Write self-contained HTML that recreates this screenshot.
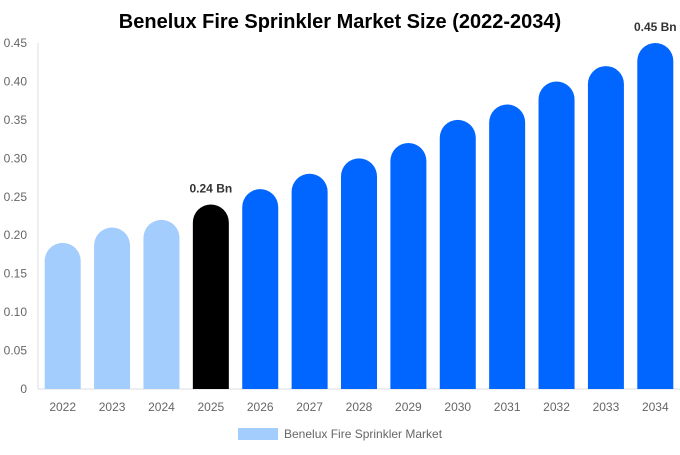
<!DOCTYPE html>
<html><head><meta charset="utf-8"><style>
body{margin:0;background:#fff;font-family:"Liberation Sans",Arial,sans-serif}
svg text{font-family:"Liberation Sans",Arial,sans-serif}
</style></head><body>
<svg id="c" width="680" height="450">
<text x="340" y="28" text-anchor="middle" font-size="20" font-weight="bold" fill="#000">Benelux Fire Sprinkler Market Size (2022-2034)</text>
<g id="grid"></g><g id="bars"></g>
<rect x="238" y="428" width="40" height="12" fill="#a3cdfd"/>
<text x="284" y="438" font-size="12" fill="#666">Benelux Fire Sprinkler Market</text>
</svg>
<script>
const years=["2022","2023","2024","2025","2026","2027","2028","2029","2030","2031","2032","2033","2034"];
const values=[0.19,0.21,0.22,0.24,0.26,0.28,0.30,0.32,0.35,0.37,0.40,0.42,0.45];
const ticks=[0,0.05,0.10,0.15,0.20,0.25,0.30,0.35,0.40,0.45];
const labels={3:"0.24 Bn",12:"0.45 Bn"};
const NS="http://www.w3.org/2000/svg";
const x0=38,x1=680,y0=389,yTop=43,maxV=0.45;
const y=v=>y0-(v/maxV)*(y0-yTop);
const bw=(x1-x0)/years.length;
const xc=i=>x0+bw*(i+0.5);
function mk(t,a,p){const e=document.createElementNS(NS,t);for(const k in a)e.setAttribute(k,a[k]);p.appendChild(e);return e;}
const g=document.getElementById('grid'),b=document.getElementById('bars');
const ax=mk('line',{x1:x0,x2:x0,y1:yTop,y2:y0,stroke:'#ddd'},g);


const bx=mk('line',{x1:x0,x2:x1,y1:y0,y2:y0,stroke:'#ddd'},g);


ticks.forEach(t=>{const e=mk('text',{x:27,y:y(t)+4,'text-anchor':'end','font-size':12,fill:'#666'},g);e.textContent=t===0?"0":t.toFixed(2);

});
years.forEach((yr,i)=>{
 const w=36,r=18,cx=xc(i),top=y(values[i]),l=cx-w/2;
 const col=i<3?'#a3cdfd':i===3?'#000':'#0066ff';
 const p=mk('path',{d:`M${l},${y0}V${top+r}A${r},${r} 0 0 1 ${l+w},${top+r}V${y0}Z`,fill:col},b);
 
 
 const t=mk('text',{x:cx,y:411,'text-anchor':'middle','font-size':12,fill:'#666'},b);t.textContent=yr;
 
 
 if(labels[i]){const v=mk('text',{x:cx,y:top-12,'text-anchor':'middle','font-size':12,'font-weight':'bold',fill:'#333'},b);v.textContent=labels[i];
 
 }
});
</script>
</body></html>
